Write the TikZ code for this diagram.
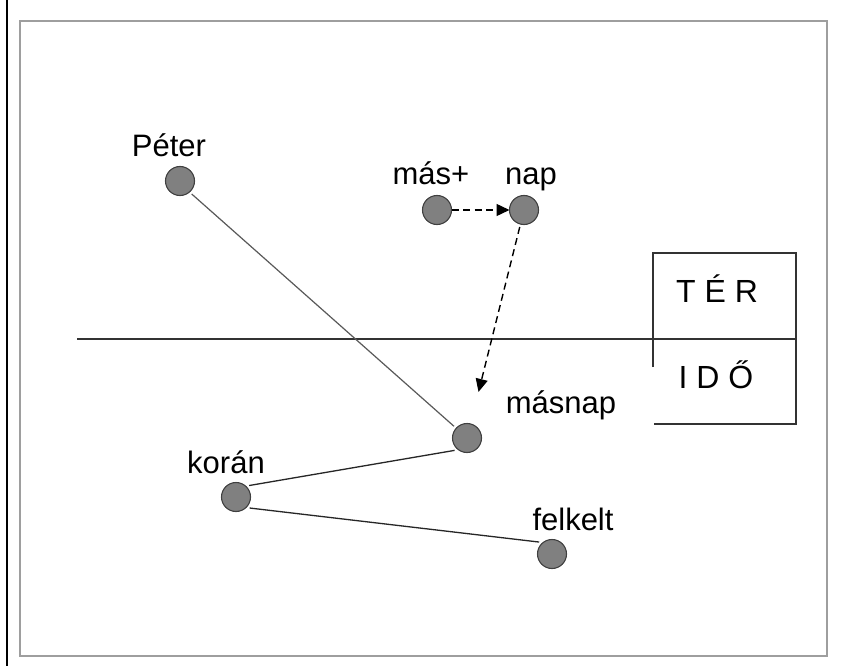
\documentclass[tikz,border=0pt]{standalone}
\usepackage{fontspec}
\setmainfont{Liberation Sans}
\usetikzlibrary{arrows.meta}
\begin{document}
\begin{tikzpicture}[x=1pt,y=-1pt,
  word/.style={anchor=base,inner sep=0pt,font=\fontsize{31}{36}\selectfont},
  boxword/.style={anchor=base,inner sep=0pt,font=\fontsize{32}{38}\selectfont},
  dot/.style={circle,draw=black!75,line width=1.1pt,fill=black!50,minimum size=29pt,inner sep=0pt,outer sep=3pt},
  link/.style={draw=black!85,line width=1.3pt},
  faint/.style={draw=black!65,line width=1.2pt},
  hop/.style={draw=black,line width=1.4pt,dash pattern=on 7pt off 4.5pt,-{Triangle[length=13pt,width=12pt]}},
  rule/.style={draw=black!80,line width=1.6pt}]
\useasboundingbox (0,0) rectangle (841,666);
\fill[white] (0,0) rectangle (841,666);

% page edge and frame
\draw[black,line width=2pt] (6.5,0) -- (6.5,666);
\draw[black!38,line width=2pt] (19.5,21) rectangle (827,656);

% space / time divider and legend box
\coordinate (hl) at (77,339);
\coordinate (hr) at (796,339);
\draw[rule] (hl) -- (hr);
\draw[rule] (653,367) -- (653,253) -- (796,253) -- (796,424) -- (654,424);
\node[boxword] (ter) at (717,302) {T É R};
\node[boxword] (ido) at (716,388) {I D Ő};

% words
\node[dot] (peter)  at (180,181) {};
\node[dot] (mas)    at (437,210) {};
\node[dot] (nap)    at (524,210) {};
\node[dot] (masnap) at (467,438) {};
\node[dot] (koran)  at (236,497) {};
\node[dot] (felk)   at (552,554) {};

\node[word] (lpeter)  at (169,157) {Péter};
\node[word] (lmas)    at (431,185) {más+};
\node[word] (lnap)    at (531,185) {nap};
\node[word] (lmasnap) at (561,413) {másnap};
\node[word] (lkoran)  at (226,473) {korán};
\node[word] (lfelk)   at (573,530) {felkelt};

% relations
\draw[faint] (peter.-48) -- (masnap.138);
\draw[link] (koran.41) -- (masnap.225);
\draw[link] (koran.-39) -- (felk.137);
\draw[hop,shorten <=-3pt,shorten >=-3pt] (mas) -- (nap);
\draw[hop,shorten >=30pt] (nap) -- (masnap);
\end{tikzpicture}
\end{document}
